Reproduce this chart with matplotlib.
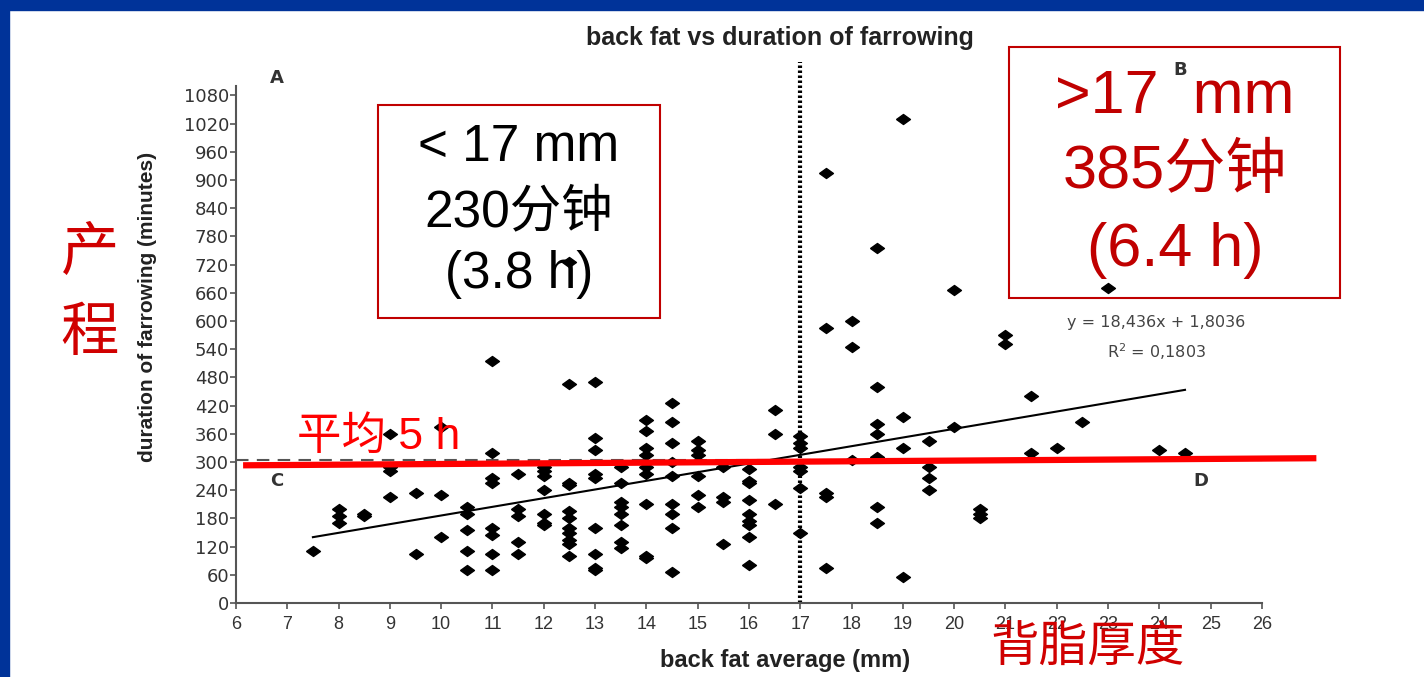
import matplotlib.pyplot as plt
from matplotlib.patches import Rectangle

# back fat (mm) columns and the farrowing durations (minutes) read for each column
fat_levels = [7.5, 8, 8.5, 9, 9.5, 10, 10.5, 11, 11.5, 12, 12.5, 13, 13.5, 14, 14.5,
              15, 15.5, 16, 16.5, 17, 17.5, 18, 18.5, 19, 19.5, 20, 20.5, 21, 21.5,
              22, 22.5, 23, 24, 24.5]
durations = [
    [110],
    [200, 185, 170],
    [190, 185],
    [360, 290, 280, 225],
    [235, 105],
    [375, 230, 140],
    [205, 190, 155, 110, 70],
    [515, 320, 265, 255, 160, 145, 105, 70],
    [275, 200, 185, 130, 105],
    [290, 280, 270, 240, 190, 170, 165],
    [725, 465, 255, 250, 195, 180, 160, 150, 135, 125, 100],
    [470, 350, 325, 275, 265, 160, 105, 75, 70],
    [290, 255, 215, 205, 190, 165, 130, 118],
    [390, 365, 330, 315, 290, 275, 210, 100, 95],
    [425, 385, 340, 300, 270, 210, 190, 160, 65],
    [345, 325, 315, 270, 230, 205],
    [290, 225, 215, 125],
    [285, 260, 255, 220, 190, 175, 165, 140, 80],
    [410, 360, 210],
    [355, 340, 330, 290, 280, 245, 150],
    [915, 585, 235, 225, 75],
    [600, 545, 305],
    [755, 460, 380, 360, 310, 205, 170],
    [1030, 395, 330, 55],
    [345, 290, 265, 240],
    [665, 375],
    [200, 190, 180],
    [570, 550],
    [440, 320],
    [330],
    [385],
    [670],
    [325],
    [320],
]

slope, intercept = 18.436, 1.8036
trend_x = [7.5, 24.5]
mean_line_y = 305          # grey dashed line (overall mean)
red_line_x = [6.2, 27.0]   # red overlay "平均 5 h"
red_line_y = [293, 308]
split_fat = 17

x_ticks = list(range(6, 27))
y_ticks = list(range(0, 1081, 60))

xs, ys = [], []
for f, col in zip(fat_levels, durations):
    for d in col:
        xs.append(f)
        ys.append(d)

fig = plt.figure(figsize=(14.24, 6.77), dpi=100)
fig.patch.set_facecolor('white')

# blue slide frame
fig.add_artist(Rectangle((0, 0.985), 1, 0.015, transform=fig.transFigure, color='#003399', zorder=10))
fig.add_artist(Rectangle((0, 0), 0.0065, 1, transform=fig.transFigure, color='#003399', zorder=10))

ax = fig.add_axes([0.1657, 0.1093, 0.7205, 0.7637])
ax.set_xlim(6, 26)
ax.set_ylim(0, 1100)
for s in ['top', 'right']:
    ax.spines[s].set_visible(False)
for s in ['left', 'bottom']:
    ax.spines[s].set_color('#555555')
    ax.spines[s].set_linewidth(1.5)
ax.set_xticks(x_ticks)
ax.set_yticks(y_ticks)
ax.tick_params(axis='both', direction='out', color='#555555', width=1.2, length=4)
ax.tick_params(axis='y', labelsize=13, labelcolor='#333333', pad=1)
ax.tick_params(axis='x', labelsize=13, labelcolor='#333333', pad=5)
for lab in ax.get_xticklabels():
    lab.set_family('Liberation Sans')

diamond = [(-1, 0), (0, 0.72), (1, 0), (0, -0.72), (-1, 0)]
ax.scatter(xs, ys, marker=diamond, s=100, color='black', zorder=3)

ax.plot(trend_x, [slope * x + intercept for x in trend_x], color='black', lw=1.5, zorder=2)
ax.axhline(mean_line_y, color='#555555', lw=1.5, ls=(0, (6, 4)), zorder=1)
ax.plot([split_fat, split_fat], [0, 1150], color='black', lw=3, ls=(0, (0.6, 0.6)),
        clip_on=False, zorder=2)
ax.plot(red_line_x, red_line_y, color='#ff0000', lw=4.5, clip_on=False, zorder=4)

for t, x, y in [('A', 6.8, 1116), ('B', 24.4, 1133), ('C', 6.8, 259), ('D', 24.8, 259)]:
    ax.text(x, y, t, fontsize=13, fontweight='bold', color='#333333', ha='center', va='center')

ax.text(23.93, 597, 'y = 18,436x + 1,8036', fontsize=11.5, color='#444444', ha='center', va='center')
ax.text(23.95, 534, 'R$^2$ = 0,1803', fontsize=11.5, color='#444444', ha='center', va='center')

ax.set_xlabel('back fat average (mm)', fontsize=17, fontweight='bold', color='#222222',
              family='Liberation Sans')
ax.xaxis.set_label_coords(0.535, -0.088)
ax.set_ylabel('duration of farrowing (minutes)', fontsize=15, fontweight='bold', color='#222222',
              family='Liberation Sans')
ax.yaxis.set_label_coords(-0.077, 0.5725)

fig.text(0.5478, 0.9439, 'back fat vs duration of farrowing', fontsize=18, fontweight='bold',
         color='#222222', ha='center', va='center', family='Liberation Sans')

# slide overlays
mix = ['Liberation Sans', 'Noto Sans CJK SC']
fig.add_artist(Rectangle((0.2654, 0.5303), 0.198, 0.3146, transform=fig.transFigure,
                         fill=False, edgecolor='#c00000', lw=1.5, zorder=5))
fig.add_artist(Rectangle((0.7086, 0.5598), 0.2324, 0.3708, transform=fig.transFigure,
                         fill=False, edgecolor='#c00000', lw=1.5, zorder=5))
for txt, y in [('< 17 mm', 0.7814), ('230分钟', 0.6854), ('(3.8 h)', 0.5938)]:
    fig.text(0.3645, y, txt, fontsize=37, color='black', ha='center', va='center', family=mix)
for txt, y in [('>17  mm', 0.8567), ('385分钟', 0.7459), ('(6.4 h)', 0.6307)]:
    fig.text(0.825, y, txt, fontsize=44, color='#c00000', ha='center', va='center', family=mix)

fig.text(0.0632, 0.6233, '产', fontsize=42, color='#d00000', ha='center', va='center', family=mix)
fig.text(0.0632, 0.5052, '程', fontsize=42, color='#d00000', ha='center', va='center', family=mix)
fig.text(0.2086, 0.3545, '平均 5 h', fontsize=32, color='#ff0000', ha='left', va='center',
         family=mix, zorder=6)
fig.text(0.6952, 0.0428, '背脂厚度', fontsize=35, color='#d00000', ha='left', va='center', family=mix)

fig.savefig('out.png', dpi=100, facecolor='white')
